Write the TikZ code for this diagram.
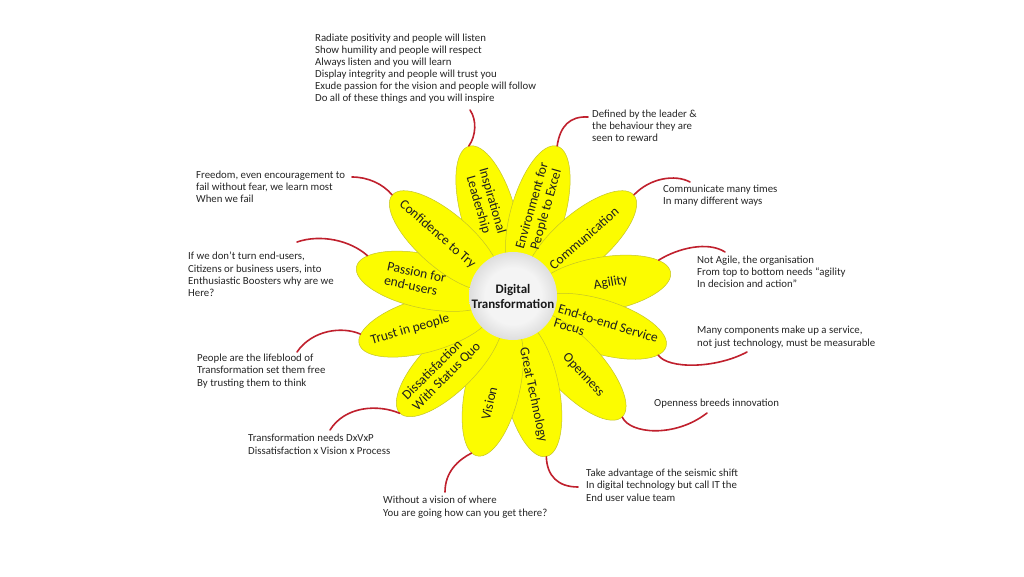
\documentclass[tikz,border=0pt]{standalone}
\usepackage{fontspec}
\setmainfont{Carlito}
\usetikzlibrary{shapes.geometric}
\definecolor{petalY}{RGB}{252,252,0}
\definecolor{petalE}{RGB}{196,196,40}
\definecolor{lineR}{RGB}{192,32,45}
\definecolor{discC}{RGB}{244,244,244}
\definecolor{discG}{RGB}{222,222,222}
\pgfdeclareradialshading{discshade}{\pgfpoint{0bp}{0bp}}{color(0bp)=(discC); color(16bp)=(discC); color(25bp)=(discG); color(50bp)=(discG)}
\begin{document}
\begin{tikzpicture}[x=1pt,y=1pt,
  petal/.style={ellipse, minimum width=140pt, minimum height=54pt, inner sep=0pt, fill=petalY, draw=petalE, line width=0.5pt},
  ptext/.style={font=\fontsize{13.5}{14.5}\selectfont, text=black!88, inner sep=0pt},
  note/.style={font=\fontsize{10.8}{12.4}\selectfont, text=black!85, align=left, anchor=base west, inner sep=0pt},
  link/.style={draw=lineR, line width=1.6pt, line cap=round},
]
\useasboundingbox (0,0) rectangle (1024,576);
\fill[white] (0,0) rectangle (1024,576);
\begin{scope}[shift={(513,276)}]
  \node[petal, rotate=106]  (p1)  at (106:90)  {};
  \node[petal, rotate=74]   (p2)  at (74:90)   {};
  \node[petal, rotate=41]   (p3)  at (41:90)   {};
  \node[petal, rotate=10]   (p4)  at (10:90)   {};
  \node[petal, rotate=-17]  (p5)  at (-17:90)  {};
  \node[petal, rotate=-47]  (p6)  at (-47:90)  {};
  \node[petal, rotate=-78]  (p7)  at (-78:90)  {};
  \node[petal, rotate=-103] (p8)  at (-103:90) {};
  \node[petal, rotate=-135] (p9)  at (-135:90) {};
  \node[petal, rotate=-164] (p10) at (-164:90) {};
  \node[petal, rotate=168]  (p11) at (168:90)  {};
  \node[petal, rotate=139]  (p12) at (139:90)  {};
  \node[ptext, rotate=-74, align=center] (t1) at (106:101) {Inspirational\\Leadership};
  \node[ptext, rotate=74, align=center]  (t2) at (74:96)   {Environment for\\People to Excel};
  \node[ptext, rotate=41]  (t3)  at (41:94)   {Communication};
  \node[ptext, rotate=10]  (t4)  at (10:99)   {Agility};
  \node[ptext, rotate=-17, align=left] (t5) at (-18:98) {End-to-end Service\\Focus};
  \node[ptext, rotate=-47] (t6)  at (-47:103) {Openness};
  \node[ptext, rotate=-78] (t7)  at (-78:97)  {Great Technology};
  \node[ptext, rotate=77]  (t8)  at (-103:106) {Vision};
  \node[ptext, rotate=45, align=left] (t9) at (-135:101) {Dissatisfaction\\With Status Quo};
  \node[ptext, rotate=16]  (t10) at (-164:107) {Trust in people};
  \node[ptext, rotate=-12, align=left] (t11) at (168:100) {Passion for\\end-users};
  \node[ptext, rotate=-41] (t12) at (139:100)  {Confidence to Try};
  \node[circle, minimum size=88pt, inner sep=0pt, shade, shading=discshade, text=black!90,
        font=\bfseries\fontsize{13}{15}\selectfont, align=center] (hub) at (0,4) {Digital\\Transformation};
\end{scope}

\node[note, font=\fontsize{10.8}{12}\selectfont] (n1) at (315,474) {Radiate positivity and people will listen\\Show humility and people will respect\\Always listen and you will learn\\Display integrity and people will trust you\\Exude passion for the vision and people will follow\\Do all of these things and you will inspire};
\node[note] (n2) at (592,434) {Defined by the leader \&\\the behaviour they are\\seen to reward};
\node[note] (n3) at (663,371) {Communicate many times\\In many different ways};
\node[note] (n4) at (697,288) {Not Agile, the organisation\\From top to bottom needs “agility\\In decision and action”};
\node[note] (n5) at (697,230) {Many components make up a service,\\not just technology, must be measurable};
\node[note] (n6) at (654,170) {Openness breeds innovation};
\node[note] (n7) at (586,75) {Take advantage of the seismic shift\\In digital technology but call IT the\\End user value team};
\node[note] (n8) at (383,60) {Without a vision of where\\You are going how can you get there?};
\node[note] (n9) at (248,122) {Transformation needs DxVxP\\Dissatisfaction x Vision x Process};
\node[note] (n10) at (197,190) {People are the lifeblood of\\Transformation set them free\\By trusting them to think};
\node[note] (n11) at (188,279) {If we don’t turn end-users,\\Citizens or business users, into\\Enthusiastic Boosters why are we\\Here?};
\node[note] (n12) at (196,373) {Freedom, even encouragement to\\fail without fear, we learn most\\When we fail};

\coordinate (k1) at (470,466);
\coordinate (k2) at (588,459);
\coordinate (k3) at (690,394);
\coordinate (k4) at (725,324);
\coordinate (k5) at (747,224);
\coordinate (k6) at (707,163);
\coordinate (k7) at (578,89);
\coordinate (k8) at (445,84);
\coordinate (k9) at (330,146);
\coordinate (k10) at (297,224);
\coordinate (k11) at (297,334);
\coordinate (k12) at (352,399);

\draw[link] (k1) .. controls (477,456) and (476,440) .. (p1.east);
\draw[link] (p2.east) .. controls (560,450) and (570,460) .. (k2);
\draw[link] (p3.east) .. controls (650,398) and (675,402) .. (k3);
\draw[link] (p4.13) .. controls (678,328) and (708,335) .. (k4);
\draw[link] (p5.-9) .. controls (668,207) and (715,207) .. (k5);
\draw[link] (p6.east) .. controls (630,142) and (675,138) .. (k6);
\draw[link] (p7.east) .. controls (547,100) and (558,89) .. (k7);
\draw[link] (p8.-5) .. controls (458,116) and (445,104) .. (k8);
\draw[link] (p9.east) .. controls (378,172) and (345,170) .. (k9);
\draw[link] (p10.-8) .. controls (342,250) and (312,246) .. (k10);
\draw[link] (p11.-12) .. controls (350,336) and (320,342) .. (k11);
\draw[link] (p12.east) .. controls (383,392) and (368,399) .. (k12);
\end{tikzpicture}
\end{document}
